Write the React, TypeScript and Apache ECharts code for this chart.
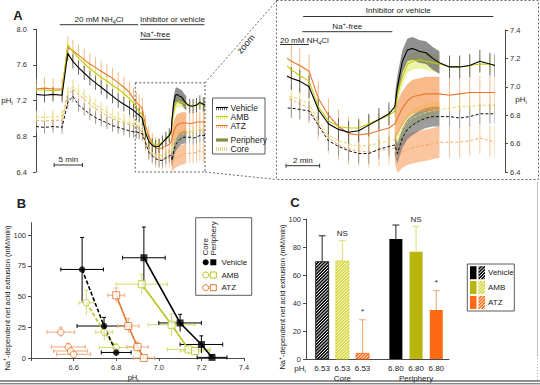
import React, { useEffect, useRef } from "react";
import * as echarts from "echarts";

const FONT = '"Liberation Sans", Arial, Helvetica, sans-serif';
const INK = "#222222";
const AXIS = "#4a4a4a";

// ---------------- Panel A : pHi time courses ----------------
const timeMin = [
  0, 1.5, 3, 4.6,
  5.6, 6.5, 7.5, 8.5, 9.5, 10.5, 11.5, 12.5, 13.5, 14.5, 15.5, 16.5,
  17.2, 17.7, 18.2, 18.75, 19.3, 19.9, 20.5, 21.1, 21.7, 22.3, 22.9, 23.5, 23.85,
  24.0, 24.3, 24.6, 24.9, 25.3, 25.7, 26.1, 26.5,
  27.1, 27.7, 28.3, 28.9, 29.5, 29.8,
];
const phPeripheryVehicle = [
  7.27, 7.26, 7.27, 7.26,
  7.73, 7.64, 7.57, 7.51, 7.45, 7.40, 7.35, 7.30, 7.25, 7.20, 7.16, 7.12,
  7.09, 7.06, 7.04, 7.00, 6.84, 6.74, 6.70, 6.68, 6.69, 6.73, 6.77, 6.81, 6.86,
  7.00, 7.18, 7.26, 7.27, 7.25, 7.24, 7.20, 7.17,
  7.14, 7.14, 7.15, 7.18, 7.16, 7.15,
];
const phPeripheryAMB = [
  7.32, 7.32, 7.31, 7.32,
  7.83, 7.75, 7.68, 7.62, 7.56, 7.51, 7.46, 7.42, 7.37, 7.33, 7.28, 7.22,
  7.17, 7.12, 7.08, 7.04, 6.86, 6.76, 6.72, 6.71, 6.71, 6.74, 6.77, 6.80, 6.83,
  6.95, 7.07, 7.16, 7.18, 7.19, 7.18, 7.17, 7.16,
  7.14, 7.14, 7.15, 7.16, 7.16, 7.15,
];
const phPeripheryATZ = [
  7.33, 7.34, 7.33, 7.33,
  7.80, 7.76, 7.71, 7.66, 7.61, 7.57, 7.53, 7.49, 7.45, 7.40, 7.35, 7.29,
  7.22, 7.18, 7.15, 7.11, 6.92, 6.80, 6.72, 6.67, 6.66, 6.67, 6.69, 6.71, 6.74,
  6.78, 6.85, 6.90, 6.93, 6.94, 6.95, 6.95, 6.95,
  6.94, 6.95, 6.96, 6.96, 6.96, 6.96,
];
const phCoreVehicle = [
  6.91, 6.90, 6.91, 6.90,
  7.18, 7.25, 7.15, 7.10, 7.05, 7.01, 6.98, 6.95, 6.92, 6.90, 6.88, 6.86,
  6.85, 6.85, 6.84, 6.83, 6.73, 6.62, 6.58, 6.55, 6.53, 6.53, 6.56, 6.58, 6.59,
  6.53, 6.64, 6.70, 6.73, 6.76, 6.78, 6.79, 6.79,
  6.79, 6.78, 6.79, 6.81, 6.81, 6.81,
];
const phCoreAMB = [
  7.02, 7.01, 7.02, 7.02,
  7.30, 7.36, 7.31, 7.26, 7.20, 7.15, 7.11, 7.07, 7.03, 7.00, 6.97, 6.95,
  6.94, 6.93, 6.91, 6.88, 6.76, 6.66, 6.62, 6.60, 6.58, 6.59, 6.60, 6.62, 6.63,
  6.62, 6.70, 6.75, 6.78, 6.80, 6.82, 6.83, 6.84,
  6.85, 6.86, 6.86, 6.87, 6.87, 6.87,
];
const phCoreATZ = [
  6.98, 6.97, 6.98, 6.98,
  7.25, 7.33, 7.27, 7.22, 7.16, 7.11, 7.07, 7.03, 7.00, 6.97, 6.95, 6.93,
  6.92, 6.91, 6.88, 6.85, 6.74, 6.64, 6.59, 6.56, 6.55, 6.54, 6.55, 6.56, 6.57,
  6.50, 6.54, 6.56, 6.57, 6.58, 6.59, 6.60, 6.61,
  6.61, 6.61, 6.62, 6.64, 6.62, 6.61,
];
const semPeriphery = [0.08, 0.06, 0.12]; // Vehicle, AMB, ATZ
const semCore = [0.07, 0.06, 0.11];
const denseWindow = [23.85, 26.5];
const nh4clWindow = [4.2, 18.0];
const naFreeWindow = [18.35, 23.7];
const inhibitorWindow = [18.4, 29.7];
const zoomWindow = [17.5, 29.8];
const phAxisWide = [6.4, 8.0, 0.4];
const phAxisZoom = [6.4, 7.4, 0.2];
const treatments = ["Vehicle", "AMB", "ATZ"];
const regions = ["Periphery", "Core"];

// ---------------- Panel B : flux vs pHi ----------------
const coreVehicleB = { ph: [6.64, 6.743, 6.8], flux: [72, 26, 4.5], phSem: [0.1, 0.127, 0.07], fluxSem: [26, 7, 3] };
const coreAmbB = { ph: [6.66, 6.744, 6.8], flux: [45, 21, 8.5], phSem: [0.035, 0.04, 0.08], fluxSem: [10, 7, 3] };
const coreAtzB = { ph: [6.54, 6.575, 6.586, 6.6], flux: [21, 9, 5.7, 3], phSem: [0.065, 0.08, 0.08, 0.08], fluxSem: [4, 3, 2, 2] };
const periVehicleB = { ph: [6.93, 7.1, 7.2, 7.25], flux: [81.5, 28.5, 11, 0.5], phSem: [0.1, 0.1, 0.1, 0.07], fluxSem: [25, 7, 7, 2] };
const periAmbB = { ph: [6.92, 7.06, 7.14, 7.17], flux: [60, 27, 7, 5.7], phSem: [0.12, 0.11, 0.1, 0.07], fluxSem: [8, 9, 4, 3] };
const periAtzB = { ph: [6.8, 6.857, 6.9, 6.93], flux: [51, 26, 9, 0], phSem: [0.04, 0.05, 0.05, 0.05], fluxSem: [6, 6, 4, 2] };
const fluxTicksB = [0, 25, 50, 75, 100];

// ---------------- Panel C : bars ----------------
const barGroups = ["Core", "Periphery"];
const barGroupPH = ["6.53", "6.80"];
const fluxCore = [69.5, 70, 4];
const fluxCoreSem = [18.5, 14.5, 24];
const fluxPeriphery = [85.7, 76.6, 35];
const fluxPeripherySem = [10, 17.9, 13.8];
const sigCore = ["", "NS", "*"];
const sigPeriphery = ["", "NS", "*"];

// ---------------- styles ----------------
const treatColorA = ["#000000", "#c3cc0a", "#e8762e"];
const coreLineA = ["#111111", "#d9dc5c", "#f3a761"];
const errPeriA = ["rgba(80,80,80,0.85)", "rgba(226,232,130,0.9)", "rgba(246,176,124,0.9)"];
const errCoreA = ["rgba(140,140,140,0.85)", "rgba(234,238,160,0.9)", "rgba(248,192,142,0.9)"];
const bandPeriA = ["rgba(100,100,100,0.72)", "rgba(226,236,120,0.65)", "rgba(245,140,60,0.6)"];
const bandCoreA = ["rgba(115,115,115,0.7)", "rgba(230,238,140,0.6)", "rgba(246,150,80,0.55)"];
const colB = ["#000000", "#b9c41a", "#e4742c"];
const errB = ["#000000", "#d2da6c", "#f2a878"];
const colC = ["#000000", "#b8b50c", "#ff6a12"];
const hatchC = ["#111111", "#d8d83e", "#ff6f1c"];
const errC = ["#222222", "#dcdc7a", "#f3a270"];

const rich = (size: number, fill = INK) => ({
  a: { fontSize: size, fontFamily: FONT, fill, lineHeight: size + 3 },
  s: { fontSize: size * 0.7, fontFamily: FONT, fill, verticalAlign: "bottom" },
  p: { fontSize: size * 0.7, fontFamily: FONT, fill, verticalAlign: "top" },
});

function txt(x: number, y: number, text: string, o: any = {}) {
  const size = o.size || 8;
  const fill = o.fill || INK;
  const style: any = {
    text,
    fill,
    font: `${o.bold ? "bold " : ""}${size}px ${FONT}`,
    align: o.align || "center",
    verticalAlign: o.va || "middle",
  };
  if (o.rich) style.rich = rich(size, fill);
  return { type: "text", x, y, rotation: o.rot || 0, silent: true, z: 60, style };
}
function seg(x1: number, y1: number, x2: number, y2: number, stroke = INK, lineWidth = 1, dash?: number[]) {
  return { type: "line", silent: true, z: 50, shape: { x1, y1, x2, y2 }, style: { stroke, lineWidth, lineDash: dash } };
}
function hatch(x0: number, y0: number, w: number, h: number, step: number, color: string, lw: number) {
  const out: any[] = [];
  for (let c = x0 + y0 + step / 2; c < x0 + w + y0 + h; c += step) {
    const xa = Math.max(x0, c - (y0 + h));
    const xb = Math.min(x0 + w, c - y0);
    if (xb > xa) out.push({ type: "line", shape: { x1: xa, y1: c - xa, x2: xb, y2: c - xb }, style: { stroke: color, lineWidth: lw } });
  }
  return out;
}

function tracesA() {
  const peri = [phPeripheryVehicle, phPeripheryAMB, phPeripheryATZ];
  const core = [phCoreVehicle, phCoreAMB, phCoreATZ];
  const list: any[] = [];
  [2, 1, 0].forEach((k) => list.push({ ph: core[k], sem: semCore[k], line: coreLineA[k], dash: true, err: errCoreA[k], band: bandCoreA[k] }));
  [2, 1, 0].forEach((k) => list.push({ ph: peri[k], sem: semPeriphery[k], line: treatColorA[k], dash: false, err: errPeriA[k], band: bandPeriA[k] }));
  return list;
}

function seriesA(g: number, xMin: number) {
  const trs = tracesA();
  const out: any[] = [];
  const denseIdx = timeMin.map((_, i) => i).filter((i) => timeMin[i] >= denseWindow[0] && timeMin[i] <= denseWindow[1]);
  trs.forEach((tr) => {
    out.push({
      type: "custom", xAxisIndex: g, yAxisIndex: g, silent: true, clip: true, z: 1,
      data: [[timeMin[denseIdx[0]], tr.ph[denseIdx[0]]]],
      renderItem: (_p: any, api: any) => {
        const up = denseIdx.map((i) => api.coord([timeMin[i], tr.ph[i] + tr.sem]));
        const lo = denseIdx.slice().reverse().map((i) => api.coord([timeMin[i], tr.ph[i] - tr.sem]));
        return { type: "polygon", shape: { points: up.concat(lo) }, style: { fill: tr.band } };
      },
    });
  });
  trs.forEach((tr) => {
    const data = timeMin
      .map((t, i) => [t, tr.ph[i], tr.sem])
      .filter((d) => d[0] >= xMin && !(d[0] >= denseWindow[0] && d[0] <= denseWindow[1]));
    out.push({
      type: "custom", xAxisIndex: g, yAxisIndex: g, silent: true, clip: true, z: 2, data,
      renderItem: (_p: any, api: any) => {
        const t = api.value(0), y = api.value(1), e = api.value(2);
        const a = api.coord([t, y + e]);
        const b = api.coord([t, y - e]);
        return { type: "line", shape: { x1: a[0], y1: a[1], x2: b[0], y2: b[1] }, style: { stroke: tr.err, lineWidth: 1 } };
      },
    });
  });
  trs.forEach((tr) => {
    out.push({
      type: "line", xAxisIndex: g, yAxisIndex: g, silent: true, z: 3, showSymbol: false, symbol: "none", clip: true,
      data: timeMin.map((t, i) => [t, tr.ph[i]]),
      lineStyle: { color: tr.line, width: tr.dash ? 1 : 1.1, type: tr.dash ? [3, 2] : "solid" },
    });
  });
  return out;
}

function seriesB() {
  const groups = [
    { d: coreAtzB, k: 2, core: true, line: false },
    { d: coreAmbB, k: 1, core: true, line: true },
    { d: coreVehicleB, k: 0, core: true, line: true },
    { d: periAtzB, k: 2, core: false, line: true },
    { d: periAmbB, k: 1, core: false, line: true },
    { d: periVehicleB, k: 0, core: false, line: true },
  ];
  const out: any[] = [];
  groups.forEach((gr) => {
    out.push({
      type: "custom", xAxisIndex: 2, yAxisIndex: 2, silent: true, z: 2,
      data: gr.d.ph.map((x, i) => [x, gr.d.flux[i], gr.d.phSem[i], gr.d.fluxSem[i]]),
      renderItem: (_p: any, api: any) => {
        const x = api.value(0), y = api.value(1), ex = api.value(2), ey = api.value(3);
        const l = api.coord([x - ex, y]), r = api.coord([x + ex, y]);
        const t = api.coord([x, y + ey]), b = api.coord([x, Math.max(0, y - ey)]);
        const st = { stroke: errB[gr.k], lineWidth: 1 };
        return {
          type: "group",
          children: [
            { type: "line", shape: { x1: l[0], y1: l[1], x2: r[0], y2: r[1] }, style: st },
            { type: "line", shape: { x1: l[0], y1: l[1] - 2, x2: l[0], y2: l[1] + 2 }, style: st },
            { type: "line", shape: { x1: r[0], y1: r[1] - 2, x2: r[0], y2: r[1] + 2 }, style: st },
            { type: "line", shape: { x1: t[0], y1: t[1], x2: b[0], y2: b[1] }, style: st },
            { type: "line", shape: { x1: t[0] - 2, y1: t[1], x2: t[0] + 2, y2: t[1] }, style: st },
          ],
        };
      },
    });
  });
  groups.forEach((gr) => {
    if (!gr.line) return;
    out.push({
      type: "line", xAxisIndex: 2, yAxisIndex: 2, silent: true, z: 3, showSymbol: false, symbol: "none",
      data: gr.d.ph.map((x, i) => [x, gr.d.flux[i]]),
      lineStyle: { color: colB[gr.k], width: 1.6, type: gr.core ? [4, 2] : "solid" },
    });
  });
  groups.forEach((gr) => {
    const filled = gr.k === 0;
    out.push({
      type: "scatter", xAxisIndex: 2, yAxisIndex: 2, silent: true, z: 4,
      symbol: gr.core ? "circle" : "rect",
      symbolSize: gr.core ? 6.5 : 7,
      data: gr.d.ph.map((x, i) => [x, gr.d.flux[i]]),
      itemStyle: { color: filled ? "#000" : "#fff", borderColor: colB[gr.k], borderWidth: filled ? 0 : 1 },
    });
  });
  return out;
}

function seriesC() {
  const vals = [fluxCore, fluxPeriphery];
  const sems = [fluxCoreSem, fluxPeripherySem];
  const sigs = [sigCore, sigPeriphery];
  const data: any[] = [];
  barGroups.forEach((_, g) => treatments.forEach((__, k) => data.push([0.8 + g * 3.65 + k, vals[g][k], sems[g][k], g, k])));
  return [{
    type: "custom", xAxisIndex: 3, yAxisIndex: 3, silent: true, z: 3, data,
    renderItem: (_p: any, api: any) => {
      const x = api.value(0), v = api.value(1), e = api.value(2), g = api.value(3), k = api.value(4);
      const top = api.coord([x, v]), base = api.coord([x, 0]), et = api.coord([x, v + e]);
      const w = 13, x0 = top[0] - w / 2, h = base[1] - top[1];
      const ch: any[] = [];
      ch.push({ type: "line", shape: { x1: top[0], y1: top[1], x2: et[0], y2: et[1] }, style: { stroke: errC[k], lineWidth: 1 } });
      ch.push({ type: "line", shape: { x1: top[0] - 3.5, y1: et[1], x2: top[0] + 3.5, y2: et[1] }, style: { stroke: errC[k], lineWidth: 1 } });
      if (g === 0) {
        ch.push({ type: "rect", shape: { x: x0, y: top[1], width: w, height: h }, style: { fill: hatchC[k] } });
        hatch(x0, top[1], w, h, 3.2, "#ffffff", 1).forEach((l) => ch.push(l));
        ch.push({ type: "rect", shape: { x: x0, y: top[1], width: w, height: h }, style: { fill: "none", stroke: hatchC[k], lineWidth: 0.8 } });
      } else {
        ch.push({ type: "rect", shape: { x: x0, y: top[1], width: w, height: h }, style: { fill: colC[k] } });
      }
      const s = sigs[g][k];
      if (s) ch.push({ type: "text", style: { text: s, x: top[0], y: et[1] - (s === "*" ? 8 : 7), align: "center", verticalAlign: "middle", font: `8px ${FONT}`, fill: INK } });
      ch.push({ type: "text", style: { text: barGroupPH[g], x: top[0], y: base[1] + 9, align: "center", verticalAlign: "middle", font: `8px ${FONT}`, fill: INK } });
      if (k === 1) ch.push({ type: "text", style: { text: barGroups[g], x: top[0], y: base[1] + 19, align: "center", verticalAlign: "middle", font: `8px ${FONT}`, fill: INK } });
      return { type: "group", children: ch };
    },
  }];
}

const axisCommon = (o: any = {}) => ({
  axisLine: { show: true, lineStyle: { color: AXIS, width: 1 } },
  axisTick: { show: true, length: 3, lineStyle: { color: AXIS } },
  splitLine: { show: false },
  ...o,
});
const lab = (o: any = {}) => ({ fontSize: 7.5, color: "#333", fontFamily: FONT, ...o });

function buildOption() {
  return {
    animation: false,
    backgroundColor: "#ffffff",
    grid: [
      { left: 36, top: 29.3, width: 169, height: 142.7 },
      { left: 288, top: 30, width: 207, height: 142 },
      { left: 31, top: 222.7, width: 213, height: 135.3 },
      { left: 306, top: 219, width: 143, height: 140 },
    ],
    xAxis: [
      { gridIndex: 0, type: "value", min: 0, max: zoomWindow[1], show: false },
      { gridIndex: 1, type: "value", min: zoomWindow[0], max: zoomWindow[1], show: false },
      axisCommon({
        gridIndex: 2, type: "value", min: 6.4, max: 7.4, interval: 0.2,
        axisLabel: lab({ margin: 5, formatter: (v: number) => (v < 6.45 ? "" : v.toFixed(1)) }),
      }),
      axisCommon({ gridIndex: 3, type: "value", min: 0, max: 7.08, axisTick: { show: false }, axisLabel: { show: false } }),
    ],
    yAxis: [
      axisCommon({
        gridIndex: 0, type: "value", min: phAxisWide[0], max: phAxisWide[1], interval: phAxisWide[2], offset: 5,
        axisLabel: lab({ margin: 4, formatter: (v: number) => v.toFixed(1) }),
      }),
      axisCommon({
        gridIndex: 1, type: "value", position: "right", min: phAxisZoom[0], max: phAxisZoom[1], interval: phAxisZoom[2], offset: 10,
        axisLabel: lab({ margin: 5, formatter: (v: number) => v.toFixed(1) }),
      }),
      axisCommon({
        gridIndex: 2, type: "value", min: 0, max: 110, interval: 25,
        axisTick: { show: true, length: 3, lineStyle: { color: AXIS }, customValues: fluxTicksB },
        axisLabel: lab({ margin: 5, customValues: fluxTicksB, formatter: (v: number) => (v > 100 ? "" : String(v)) }),
      }),
      axisCommon({
        gridIndex: 3, type: "value", min: 0, max: 100, interval: 20,
        axisLabel: lab({ margin: 5 }),
      }),
    ],
    series: [...seriesA(0, 0), ...seriesA(1, zoomWindow[0] - 0.01), ...seriesB(), ...seriesC()],
  };
}

function buildGraphics(chart: any) {
  const pxA = (t: number) => chart.convertToPixel({ gridIndex: 0 }, [t, 7])[0];
  const pxZ = (t: number) => chart.convertToPixel({ gridIndex: 1 }, [t, 7])[0];
  const zTL = chart.convertToPixel({ gridIndex: 0 }, [zoomWindow[0], phAxisZoom[1]]);
  const zBR = chart.convertToPixel({ gridIndex: 0 }, [zoomWindow[1], phAxisZoom[0]]);
  const el: any[] = [];
  const dash = [2, 2];

  // frame of the zoomed panel (underneath)
  el.push({ type: "rect", silent: true, z: 0, shape: { x: 276.5, y: 0.5, width: 262, height: 179 }, style: { fill: "none", stroke: "#444", lineWidth: 0.8, lineDash: dash } });

  // panel letters
  el.push(txt(18, 15, "A", { size: 13, bold: true }));
  el.push(txt(21.5, 203, "B", { size: 13, bold: true }));
  el.push(txt(295, 202, "C", { size: 13, bold: true }));

  // ---- Panel A left annotations
  el.push(txt((pxA(nh4clWindow[0]) + pxA(nh4clWindow[1])) / 2, 19, "{a|20 mM NH}{s|4}{a|Cl}", { rich: true }));
  el.push(seg(pxA(nh4clWindow[0]), 24.7, pxA(nh4clWindow[1]), 24.7, "#333", 1));
  el.push(txt((pxA(inhibitorWindow[0]) + pxA(inhibitorWindow[1])) / 2, 19, "Inhibitor or vehicle"));
  el.push(seg(pxA(inhibitorWindow[0]), 24.7, pxA(inhibitorWindow[1]), 24.7, "#333", 1));
  el.push(txt((pxA(naFreeWindow[0]) + pxA(naFreeWindow[1])) / 2, 34, "{a|Na}{p|+}{a|-free}", { rich: true }));
  el.push(seg(pxA(naFreeWindow[0]), 39.3, pxA(naFreeWindow[1]), 39.3, "#333", 1));
  el.push(txt(7, 100, "{a|pH}{s|i}", { rich: true }));
  // 5 min scale
  const s0 = pxA(3.2), s1 = pxA(8.2);
  el.push(txt((s0 + s1) / 2, 159.5, "5 min"));
  el.push(seg(s0, 165, s1, 165, "#333", 1));
  el.push(seg(s0, 163, s0, 167, "#333", 1));
  el.push(seg(s1, 163, s1, 167, "#333", 1));
  // zoom box + connectors
  el.push({ type: "rect", silent: true, z: 50, shape: { x: zTL[0], y: zTL[1], width: zBR[0] - zTL[0], height: zBR[1] - zTL[1] }, style: { fill: "none", stroke: "#333", lineWidth: 0.8, lineDash: dash } });
  el.push(seg(zBR[0], zTL[1], 276.5, 1, "#444", 0.8, dash));
  el.push(seg(zBR[0], zBR[1], 276.5, 179.5, "#444", 0.8, dash));
  el.push(txt(246, 44, "zoom", { size: 9, rot: 0.86 }));

  // legend A
  el.push({ type: "rect", silent: true, z: 50, shape: { x: 212.5, y: 98, width: 52.5, height: 56 }, style: { fill: "#fff", stroke: "#333", lineWidth: 0.8 } });
  const rowsA = [108, 117, 126];
  treatments.forEach((name, k) => {
    const y = rowsA[k];
    el.push(seg(216, y + 0.8, 228, y + 0.8, errPeriA[k], 3, [1, 1]));
    el.push(seg(216, y - 0.5, 228, y - 0.5, treatColorA[k], 1.1));
    el.push(txt(230.5, y, name, { align: "left", size: 8.5 }));
  });
  el.push(seg(216, 140, 228, 140, "#8a8a4e", 3.2));
  el.push(txt(230.5, 140, regions[0], { align: "left", size: 8.5 }));
  el.push(seg(216, 149, 228, 149, "#e9cf92", 4, [1, 1]));
  el.push(txt(230.5, 149, regions[1], { align: "left", size: 8.5 }));

  // ---- Panel A right (zoom) annotations
  el.push(txt((pxZ(inhibitorWindow[0]) + pxZ(inhibitorWindow[1])) / 2, 10.5, "Inhibitor or vehicle"));
  el.push(seg(pxZ(inhibitorWindow[0]), 16.5, pxZ(inhibitorWindow[1]), 16.5, "#333", 1));
  el.push(txt((pxZ(naFreeWindow[0]) + pxZ(naFreeWindow[1])) / 2, 26, "{a|Na}{p|+}{a|-free}", { rich: true }));
  el.push(seg(pxZ(naFreeWindow[0]), 31.7, pxZ(naFreeWindow[1]), 31.7, "#333", 1));
  el.push(txt(280, 40.5, "{a|20 mM NH}{s|4}{a|Cl}", { rich: true, align: "left" }));
  el.push(seg(280, 44.5, 309, 44.5, "#333", 1));
  el.push(txt(521, 99, "{a|pH}{s|i}", { rich: true }));
  const r0 = pxZ(17.38), r1 = pxZ(19.38);
  el.push(txt((r0 + r1) / 2, 160.5, "2 min"));
  el.push(seg(r0, 165.7, r1, 165.7, "#333", 1));
  el.push(seg(r0, 163.7, r0, 167.7, "#333", 1));
  el.push(seg(r1, 163.7, r1, 167.7, "#333", 1));

  // ---- Panel B
  el.push(txt(7, 298, "{a|Na}{p|+}{a|-dependent net acid extrusion (mM/min)}", { rich: true, rot: Math.PI / 2, size: 7.5 }));
  el.push(txt(133, 377.5, "{a|pH}{s|i}", { rich: true, size: 7.5 }));
  el.push({ type: "rect", silent: true, z: 50, shape: { x: 195.7, y: 217.7, width: 56, height: 77.6 }, style: { fill: "#fff", stroke: "#333", lineWidth: 0.8 } });
  el.push(txt(205.7, 255.5, regions[1], { rot: Math.PI / 2, align: "left", size: 8 }));
  el.push(txt(213.3, 255.5, regions[0], { rot: Math.PI / 2, align: "left", size: 8 }));
  const rowsB = [262.3, 275, 287.7];
  treatments.forEach((name, k) => {
    const y = rowsB[k];
    const filled = k === 0;
    el.push({ type: "circle", silent: true, z: 51, shape: { cx: 205.7, cy: y, r: 3 }, style: { fill: filled ? "#000" : "#fff", stroke: colB[k], lineWidth: filled ? 0 : 1 } });
    el.push({ type: "rect", silent: true, z: 51, shape: { x: 210.3, y: y - 3, width: 6, height: 6 }, style: { fill: filled ? "#000" : "#fff", stroke: colB[k], lineWidth: filled ? 0 : 1 } });
    el.push(txt(221.5, y, name, { align: "left", size: 8 }));
  });

  // ---- Panel C
  el.push(txt(282.5, 297, "{a|Na}{p|+}{a|-dependent net acid extrusion (mM/min)}", { rich: true, rot: Math.PI / 2, size: 7.5 }));
  el.push(txt(300, 368, "{a|pH}{s|i}", { rich: true }));
  el.push({ type: "rect", silent: true, z: 50, shape: { x: 467.3, y: 264, width: 47, height: 47 }, style: { fill: "#fff", stroke: "#333", lineWidth: 0.8 } });
  const rowsC = [272.7, 287.5, 302.5];
  treatments.forEach((name, k) => {
    const y = rowsC[k];
    el.push({ type: "rect", silent: true, z: 51, shape: { x: 470, y: y - 6.5, width: 6.5, height: 13 }, style: { fill: colC[k] } });
    el.push({ type: "rect", silent: true, z: 51, shape: { x: 478.5, y: y - 6.5, width: 6.5, height: 13 }, style: { fill: hatchC[k] } });
    hatch(478.5, y - 6.5, 6.5, 13, 3.2, "#ffffff", 1).forEach((l: any) => el.push({ ...l, silent: true, z: 52 }));
    el.push(txt(488, y, name, { align: "left", size: 8 }));
  });

  // frame lines
  el.push(seg(537.5, 182, 537.5, 355, "#b0b0b0", 0.8));
  el.push(seg(537.5, 355, 537.5, 380, "#999", 0.8, [1, 2]));
  el.push(seg(0, 381, 540, 381, "#222", 1.2));
  el.push(seg(0, 383.8, 540, 383.8, "#555", 1));
  return { elements: el };
}

export default function App() {
  const ref = useRef<HTMLDivElement>(null);
  useEffect(() => {
    const chart = echarts.init(ref.current as HTMLDivElement, null, { renderer: "svg" });
    chart.setOption(buildOption() as any);
    chart.setOption({ graphic: buildGraphics(chart) } as any);
    return () => chart.dispose();
  }, []);
  return (
    <div
      ref={ref}
      style={{ position: "fixed", left: 0, top: 0, width: 540, height: 385, background: "#fff" }}
    />
  );
}
